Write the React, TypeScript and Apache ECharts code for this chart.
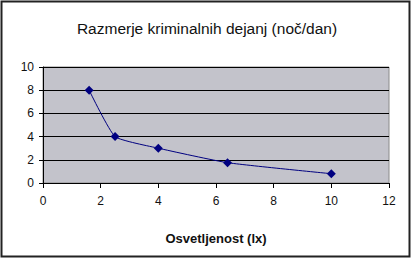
import React, { useEffect, useRef } from "react";
import * as echarts from "echarts";

const titleText = "Razmerje kriminalnih dejanj (noč/dan)";
const xAxisName = "Osvetljenost (lx)";
const illuminance = [1.6, 2.5, 4.0, 6.4, 10.0];
const crimeRatio = [8.0, 4.0, 3.0, 1.75, 0.8];

export default function App() {
  const ref = useRef<HTMLDivElement>(null);
  useEffect(() => {
    if (!ref.current) return;
    const chart = echarts.init(ref.current, null, { renderer: "svg" });
    const font = "'Liberation Sans', Arial, sans-serif";
    chart.setOption({
      animation: false,
      backgroundColor: "#ffffff",
      title: {
        text: titleText,
        left: "center",
        top: 15,
        textStyle: { fontFamily: font, fontSize: 15.5, fontWeight: "normal", color: "#111" },
      },
      grid: {
        left: 43,
        right: 25,
        top: 67,
        bottom: 77,
        show: true,
        backgroundColor: "#C3C3CB",
        borderColor: "#8a8a8a",
        borderWidth: 1,
      },
      graphic: [
        {
          type: "rect",
          shape: { x: 1.5, y: 1.5, width: 408, height: 255 },
          style: { fill: "none", stroke: "#222", lineWidth: 2 },
          z: 100,
        },
      ],
      xAxis: {
        type: "value",
        min: 0,
        max: 12,
        interval: 2,
        name: xAxisName,
        nameLocation: "middle",
        nameGap: 49,
        nameTextStyle: { fontFamily: font, fontSize: 13, fontWeight: "bold", color: "#111" },
        axisLine: { show: true, lineStyle: { color: "#000", width: 1 } },
        axisTick: { show: true, length: 5, lineStyle: { color: "#000" } },
        axisLabel: { fontFamily: font, fontSize: 12, color: "#111", margin: 12 },
        splitLine: { show: false },
      },
      yAxis: {
        type: "value",
        min: 0,
        max: 10,
        interval: 2,
        axisLine: { show: true, lineStyle: { color: "#000", width: 1 } },
        axisTick: { show: true, length: 4, lineStyle: { color: "#000" } },
        axisLabel: { fontFamily: font, fontSize: 12, color: "#111", margin: 9 },
        splitLine: { show: true, lineStyle: { color: "#000", width: 1 } },
      },
      series: [
        {
          type: "line",
          data: illuminance.map((x, i) => [x, crimeRatio[i]]),
          smooth: 0.15,
          symbol: "diamond",
          symbolSize: 9,
          itemStyle: { color: "#000080" },
          lineStyle: { color: "#000080", width: 1 },
        },
      ],
    });
    return () => chart.dispose();
  }, []);
  return (
    <div
      ref={ref}
      style={{ position: "fixed", left: 0, top: 0, width: 414, height: 260 }}
    />
  );
}
